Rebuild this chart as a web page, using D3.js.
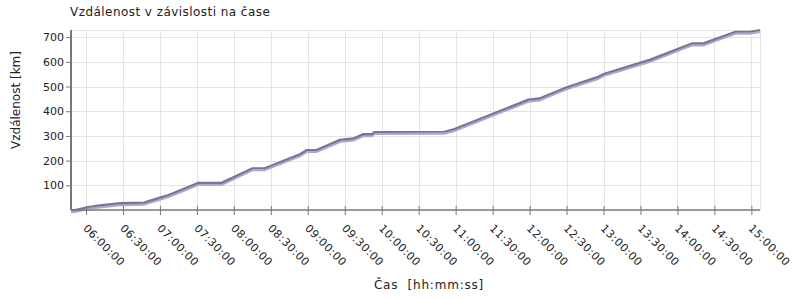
<!DOCTYPE html>
<html>
  <head>
    <meta http-equiv="Content-Type" content="text/html;charset=utf-8"/>
    <script src="https://d3js.org/d3.v7.min.js"></script>
    <style type="text/css">
    body { margin: 0; }
    text { font-family: "DejaVu Sans", sans-serif; fill: #222; }
    .grid-line { stroke: #e3e3e3; stroke-width: 1px; }
    </style>
  </head>
  <body>
    <script type="text/javascript">
      var times = ["05:47:50", "05:51:00", "06:02:00", "06:11:00", "06:28:00", "06:47:00",
        "06:58:00", "07:07:00", "07:23:00", "07:31:00", "07:50:00", "08:15:00", "08:25:00",
        "08:54:00", "08:59:00", "09:07:00", "09:26:00", "09:37:00", "09:45:00", "09:52:00",
        "09:54:00", "10:51:00", "10:59:00", "11:59:00", "12:08:00", "12:29:00", "12:38:00",
        "12:55:00", "13:00:00", "13:38:00", "14:00:00", "14:12:00", "14:21:00", "14:47:00",
        "14:59:00", "15:07:00"];
      var distances = [0, 0, 12, 19, 28, 30, 47, 61, 93, 110, 110, 169, 169,
        227, 243, 243, 284, 290, 307, 307, 316, 317, 328, 447, 452, 495, 510,
        538, 551, 609, 652, 675, 675, 722, 722, 729];
      var yTicks = [100, 200, 300, 400, 500, 600, 700];
      var xTickLabels = ["06:00:00", "06:30:00", "07:00:00", "07:30:00", "08:00:00", "08:30:00",
        "09:00:00", "09:30:00", "10:00:00", "10:30:00", "11:00:00", "11:30:00", "12:00:00",
        "12:30:00", "13:00:00", "13:30:00", "14:00:00", "14:30:00", "15:00:00"];

      var width = 800, height = 300;
      var mLeft = 71, mRight = 760, mTop = 30, mBottom = 210;
      var parse = d3.timeParse("%H:%M:%S");
      var fmt = d3.timeFormat("%H:%M:%S");

      var data = times.map(function(t, i) { return { t: parse(t), v: distances[i] }; });

      var svg = d3.select("body").append("svg")
        .attr("width", width)
        .attr("height", height);

      var x = d3.scaleTime()
        .domain(d3.extent(data, function(d) { return d.t; }))
        .range([mLeft, mRight]);
      var y = d3.scaleLinear()
        .domain([0, d3.max(data, function(d) { return d.v; })])
        .range([mBottom, mTop]);

      var xTicks = xTickLabels.map(parse);

      // grid
      svg.append("g").selectAll("line").data(xTicks).enter().append("line")
        .classed("grid-line", true)
        .attr("x1", function(d) { return Math.round(x(d)) + 0.5; })
        .attr("x2", function(d) { return Math.round(x(d)) + 0.5; })
        .attr("y1", mTop).attr("y2", mBottom);
      svg.append("g").selectAll("line").data(yTicks).enter().append("line")
        .classed("grid-line", true)
        .attr("y1", function(d) { return Math.round(y(d)) + 0.5; })
        .attr("y2", function(d) { return Math.round(y(d)) + 0.5; })
        .attr("x1", mLeft).attr("x2", mRight);
      svg.append("line").classed("grid-line", true)
        .attr("x1", mLeft).attr("x2", mRight + 0.5).attr("y1", mTop + 0.5).attr("y2", mTop + 0.5);
      svg.append("line").classed("grid-line", true)
        .attr("x1", mRight + 0.5).attr("x2", mRight + 0.5).attr("y1", mTop).attr("y2", mBottom);

      // line with shadow
      var line = d3.line()
        .x(function(d) { return x(d.t); })
        .y(function(d) { return y(d.v); });
      svg.append("path").datum(data)
        .attr("d", line)
        .attr("transform", "translate(0,2)")
        .attr("fill", "none")
        .attr("stroke", "#a9a9d2")
        .attr("stroke-width", 2.2);
      svg.append("path").datum(data)
        .attr("d", line)
        .attr("fill", "none")
        .attr("stroke", "#767694")
        .attr("stroke-width", 2.2);

      // axes
      var xAxis = d3.axisBottom(x).tickValues(xTicks).tickFormat(fmt).tickSize(5);
      var gx = svg.append("g")
        .attr("transform", "translate(0," + mBottom + ")")
        .call(xAxis);
      gx.select(".domain").attr("stroke", "#777").attr("stroke-width", 1.5).attr("d", "M" + mLeft + ",0H" + mRight);
      gx.selectAll(".tick line").attr("stroke", "#777").attr("y1", -4).attr("y2", 5);
      gx.selectAll(".tick text")
        .attr("font-size", 11)
        .attr("fill", "#222")
        .attr("letter-spacing", 0.5)
        .attr("text-anchor", "start")
        .attr("dy", null)
        .attr("y", 0)
        .attr("transform", "translate(-4,19) rotate(45)");

      var yAxis = d3.axisLeft(y).tickValues(yTicks).tickSize(5);
      var gy = svg.append("g")
        .attr("transform", "translate(" + mLeft + ",0)")
        .call(yAxis);
      gy.select(".domain").attr("stroke", "#777").attr("stroke-width", 2).attr("d", "M0," + mTop + "V" + mBottom);
      gy.selectAll(".tick line").attr("stroke", "#777").attr("x1", 1);
      gy.selectAll(".tick text").attr("font-size", 11).attr("fill", "#222").attr("x", -7);

      // titles
      svg.append("text")
        .attr("x", 70).attr("y", 16)
        .attr("font-size", 12)
        .attr("letter-spacing", 0.45)
        .text("Vzdálenost v závislosti na čase");
      svg.append("text")
        .attr("transform", "translate(20,100) rotate(-90)")
        .attr("text-anchor", "middle")
        .attr("font-size", 12)
        .text("Vzdálenost [km]");
      svg.append("text")
        .attr("x", 429).attr("y", 289)
        .attr("text-anchor", "middle")
        .attr("font-size", 12)
        .attr("letter-spacing", 0.8)
        .attr("xml:space", "preserve")
        .style("white-space", "pre")
        .text("Čas  [hh:mm:ss]");
    </script>
  </body>
</html>
